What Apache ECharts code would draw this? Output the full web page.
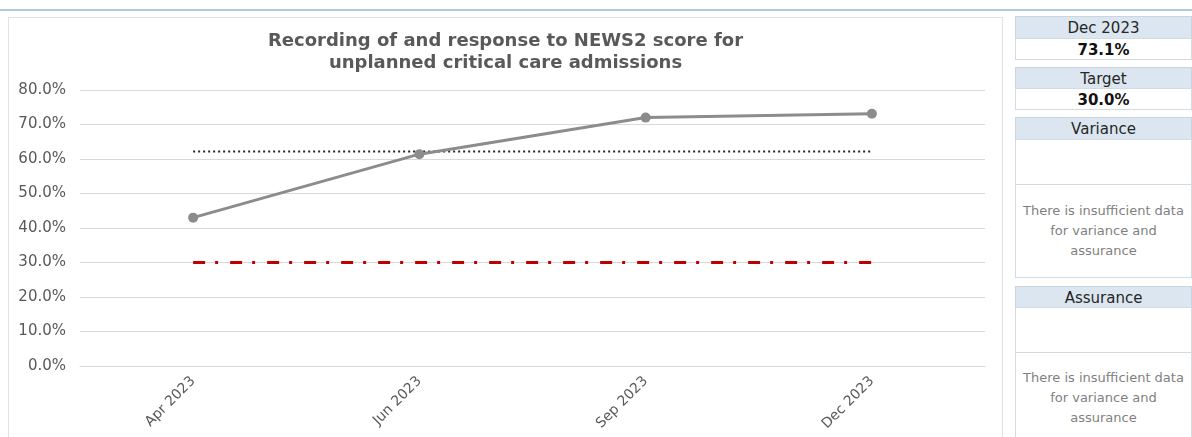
<!DOCTYPE html>
<html>
<head>
<meta charset="utf-8">
<script src="https://cdn.jsdelivr.net/npm/echarts@6/dist/echarts.min.js"></script>
<style>
  body { margin: 0; background: #fff; font-family: "DejaVu Sans", sans-serif; }
  .topline { position: absolute; left: 0; top: 9px; width: 1192px; height: 2px; background: #b4c8da; }
  #chart { position: absolute; left: 8px; top: 17px; width: 995px; height: 425px;
           border: 1px solid #e2e2e2; box-sizing: border-box; }
  .panel { position: absolute; left: 1015px; width: 177px; box-sizing: border-box; }
  .hdr { background: #dce6f0; border: 1px solid #c9d5e1; text-align: center; font-size: 15px; color: #262626; }
  .val { background: #fff; border: 1px solid #d2dae2; text-align: center; font-size: 15px; font-weight: bold; color: #111; }
  .box { background: #fff; border: 1px solid #d2dae2; }
  .msg { background: #fff; border: 1px solid #d2dae2; text-align: center; font-size: 13px; color: #7f7f7f;
         line-height: 20px; display: flex; align-items: center; justify-content: center; }
</style>
</head>
<body>
<div class="topline"></div>
<div id="chart"></div>

<div class="panel hdr" style="top:16px;height:23px;line-height:23px;">Dec 2023</div>
<div class="panel val" style="top:38px;height:22px;line-height:22px;" id="latestVal"></div>
<div class="panel hdr" style="top:67px;height:22px;line-height:22px;">Target</div>
<div class="panel val" style="top:88px;height:22px;line-height:22px;" id="targetVal"></div>
<div class="panel hdr" style="top:117px;height:23px;line-height:23px;">Variance</div>
<div class="panel box" style="top:139px;height:46px;"></div>
<div class="panel msg" style="top:184px;height:94px;">There is insufficient data<br>for variance and<br>assurance</div>
<div class="panel hdr" style="top:286px;height:22px;line-height:22px;">Assurance</div>
<div class="panel box" style="top:307px;height:46px;"></div>
<div class="panel msg" style="top:352px;height:92px;">There is insufficient data<br>for variance and<br>assurance</div>

<script>
// data
const months = ['Apr 2023', 'Jun 2023', 'Sep 2023', 'Dec 2023']
const actual = [43.0, 61.4, 72.0, 73.1]
const target = [30.0, 30.0, 30.0, 30.0]
const average = [62.2, 62.2, 62.2, 62.2]

document.getElementById('latestVal').textContent = actual[actual.length - 1].toFixed(1) + '%'
document.getElementById('targetVal').textContent = target[0].toFixed(1) + '%'

const chart = echarts.init(document.getElementById('chart'))
const option = {
  animation: false,
  textStyle: { fontFamily: 'DejaVu Sans' },
  title: {
    text: 'Recording of and response to NEWS2 score for\nunplanned critical care admissions',
    left: 'center',
    top: 7,
    textStyle: { fontSize: 18, fontWeight: 'bold', color: '#595959', lineHeight: 22, fontFamily: 'DejaVu Sans' }
  },
  grid: { left: 71, right: 17, top: 72, bottom: 75, outerBoundsMode: 'none' },
  xAxis: {
    type: 'category',
    data: months,
    boundaryGap: true,
    axisLine: { lineStyle: { color: '#d9d9d9' } },
    axisTick: { show: false },
    axisLabel: {
      rotate: 45,
      fontSize: 14,
      color: '#595959',
      margin: 13
    }
  },
  yAxis: {
    type: 'value',
    min: 0,
    max: 80,
    interval: 10,
    axisLine: { show: false },
    axisTick: { show: false },
    splitLine: { lineStyle: { color: '#d9d9d9' } },
    axisLabel: {
      fontSize: 15,
      color: '#595959',
      margin: 14,
      formatter: v => v.toFixed(1) + '%'
    }
  },
  series: [
    {
      name: 'Average',
      type: 'line',
      data: average,
      symbol: 'none',
      lineStyle: { color: '#262626', width: 2, type: [2, 3] }
    },
    {
      name: 'Target',
      type: 'line',
      data: target,
      symbol: 'none',
      lineStyle: { color: '#c00000', width: 3, type: [12, 10, 3, 12] }
    },
    {
      name: 'Actual',
      type: 'line',
      data: actual,
      symbol: 'circle',
      symbolSize: 10,
      itemStyle: { color: '#8c8c8c' },
      lineStyle: { color: '#8c8c8c', width: 3 }
    }
  ]
}
chart.setOption(option)
</script>
</body>
</html>
